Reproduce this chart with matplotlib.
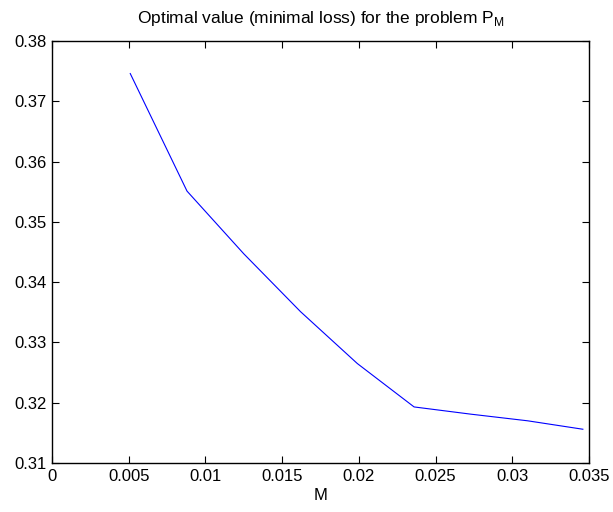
import matplotlib
matplotlib.use("Agg")
import matplotlib.pyplot as plt

M = [0.0051, 0.0088, 0.0125, 0.0162, 0.0199, 0.0236, 0.0273, 0.0310, 0.0346]
V = [0.3746, 0.3551, 0.3447, 0.3351, 0.3265, 0.3193, 0.3181, 0.3170, 0.3156]
xticks = [0, 0.005, 0.01, 0.015, 0.02, 0.025, 0.03, 0.035]
xticklabels = ["0", "0.005", "0.01", "0.015", "0.02", "0.025", "0.03", "0.035"]
yticks = [0.31, 0.32, 0.33, 0.34, 0.35, 0.36, 0.37, 0.38]
yticklabels = ["0.31", "0.32", "0.33", "0.34", "0.35", "0.36", "0.37", "0.38"]

plt.rcParams['font.family'] = ['Liberation Sans', 'DejaVu Sans']
plt.rcParams['mathtext.fontset'] = 'custom'
plt.rcParams['mathtext.rm'] = 'Liberation Sans'

fig = plt.figure(figsize=(6.13, 5.12), dpi=100)
ax = fig.add_axes([52/613, 1 - 463/512, 537/613, 422/512])
ax.plot(M, V, color=(0, 0, 1), linewidth=0.8)
ax.set_xlim(0, 0.035)
ax.set_ylim(0.31, 0.38)
ax.set_xticks(xticks)
ax.set_xticklabels(xticklabels)
ax.set_yticks(yticks)
ax.set_yticklabels(yticklabels)
ax.tick_params(direction='in', length=5, width=0.8, top=True, right=True,
               labelsize=12, pad=4)
for s in ax.spines.values():
    s.set_linewidth(1.0)
ax.set_xlabel("M", fontsize=12, labelpad=3)
ax.set_title(r"Optimal value (minimal loss) for the problem P$_\mathregular{M}$",
             fontsize=12.5, pad=13)
fig.savefig("out.png", dpi=100)
